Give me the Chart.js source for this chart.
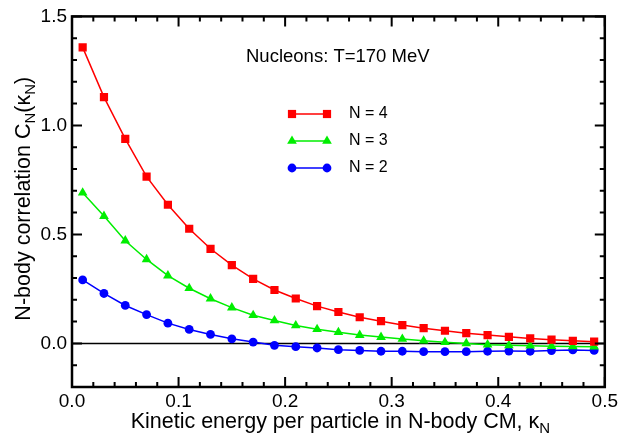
<!DOCTYPE html>
<html>
<head>
<meta charset="utf-8">
<script src="https://cdn.jsdelivr.net/npm/chart.js@4.4.1/dist/chart.umd.min.js"></script>
<style>
html,body{margin:0;padding:0;background:#fff;}
#wrap{width:621px;height:436px;position:relative;}
</style>
</head>
<body>
<div id="wrap"><canvas id="c" width="621" height="436"></canvas></div>
<script>
// ---- data ----
const kappa = [0.01,0.03,0.05,0.07,0.09,0.11,0.13,0.15,0.17,0.19,0.21,0.23,0.25,0.27,0.29,0.31,0.33,0.35,0.37,0.39,0.41,0.43,0.45,0.47,0.49];
const n4 = [1.358,1.130,0.938,0.765,0.636,0.526,0.434,0.359,0.296,0.245,0.206,0.171,0.144,0.120,0.102,0.084,0.070,0.058,0.047,0.038,0.030,0.023,0.017,0.012,0.008];
const n3 = [0.691,0.584,0.471,0.385,0.311,0.253,0.205,0.164,0.129,0.105,0.082,0.065,0.051,0.038,0.029,0.020,0.012,0.005,0.000,-0.006,-0.009,-0.011,-0.013,-0.014,-0.015];
const n2 = [0.291,0.229,0.174,0.132,0.093,0.064,0.041,0.021,0.006,-0.009,-0.015,-0.021,-0.029,-0.032,-0.036,-0.036,-0.038,-0.038,-0.038,-0.036,-0.035,-0.036,-0.033,-0.030,-0.032];
const seriesLabels = ['N = 4','N = 3','N = 2'];
const xTicks = [0,0.1,0.2,0.3,0.4,0.5];
const yTicks = [0,0.5,1.0,1.5];
const xTitle = ['Kinetic energy per particle in N-body CM, κ','N'];
const yTitle = ['N-body correlation C','N','(κ','N',')'];
const annotationText = 'Nucleons: T=170 MeV';

const FONT = '"Liberation Sans", Arial, Helvetica, sans-serif';

function pts(arr){ return arr.map((v,i)=>({x:kappa[i], y:v})); }

const datasets = [
  {label:seriesLabels[0], data:pts(n4), borderColor:'#ff0000', backgroundColor:'#ff0000', pointStyle:'rect', pointRadius:5.8},
  {label:seriesLabels[1], data:pts(n3), borderColor:'#00ee00', backgroundColor:'#00ee00', pointStyle:'triangle', pointRadius:5.6},
  {label:seriesLabels[2], data:pts(n2), borderColor:'#0000ff', backgroundColor:'#0000ff', pointStyle:'circle', pointRadius:4.4},
].map(d=>Object.assign(d,{borderWidth:1.5, pointBorderWidth:0, tension:0, fill:false, pointHoverRadius:d.pointRadius}));

function drawSubText(ctx, parts, size, subSize){
  let x = 0;
  parts.forEach((p,i)=>{
    const sub = i%2===1;
    ctx.font = (sub?subSize:size)+'px '+FONT;
    ctx.fillText(p, x, sub ? size*0.30 : 0);
    x += ctx.measureText(p).width;
  });
  return x;
}
function measureSub(ctx, parts, size, subSize){
  let w=0;
  parts.forEach((p,i)=>{ctx.font=((i%2===1)?subSize:size)+'px '+FONT; w+=ctx.measureText(p).width;});
  return w;
}

const framePlugin = {
  id:'frame',
  beforeDatasetsDraw(chart){
    const {ctx, chartArea:a, scales:{y}} = chart;
    ctx.save();
    ctx.strokeStyle='#000'; ctx.lineWidth=1.5;
    const y0 = y.getPixelForValue(0);
    ctx.beginPath(); ctx.moveTo(a.left,y0); ctx.lineTo(a.right,y0); ctx.stroke();
    ctx.restore();
  },
  afterDatasetsDraw(chart){
    const {ctx, chartArea:a, scales:{x,y}} = chart;
    ctx.save();
    ctx.strokeStyle='#000';
    ctx.lineWidth=2;
    for(let i=0;i<=25;i++){
      const px=x.getPixelForValue(i*0.02);
      const L = (i%5===0)?10:5;
      ctx.beginPath();
      ctx.moveTo(px,a.bottom); ctx.lineTo(px,a.bottom-L);
      ctx.moveTo(px,a.top); ctx.lineTo(px,a.top+L);
      ctx.stroke();
    }
    for(let i=-2;i<=15;i++){
      const py=y.getPixelForValue(i*0.1);
      const L = (i%5===0)?10:5;
      ctx.beginPath();
      ctx.moveTo(a.left,py); ctx.lineTo(a.left+L,py);
      ctx.moveTo(a.right,py); ctx.lineTo(a.right-L,py);
      ctx.stroke();
    }
    ctx.lineWidth=2.5;
    ctx.strokeRect(a.left,a.top,a.right-a.left,a.bottom-a.top);

    // annotation
    ctx.fillStyle='#000';
    ctx.textBaseline='middle';
    ctx.textAlign='left';
    ctx.font='18.5px '+FONT;
    ctx.fillText(annotationText, 246, 57);

    // legend
    const ly=[114,141,168];
    chart.data.datasets.forEach((d,i)=>{
      ctx.strokeStyle=d.borderColor; ctx.lineWidth=1.5;
      ctx.beginPath(); ctx.moveTo(292,ly[i]); ctx.lineTo(327,ly[i]); ctx.stroke();
      ctx.fillStyle=d.backgroundColor;
      [292,327].forEach(px=>{
        ctx.beginPath();
        if(d.pointStyle==='rect'){ const s=d.pointRadius*Math.SQRT1_2; ctx.rect(px-s,ly[i]-s,2*s,2*s);} 
        else if(d.pointStyle==='circle'){ ctx.arc(px,ly[i],d.pointRadius,0,Math.PI*2);} 
        else { const r=d.pointRadius; ctx.moveTo(px,ly[i]-r); ctx.lineTo(px+r*Math.sin(2*Math.PI/3),ly[i]+r/2); ctx.lineTo(px-r*Math.sin(2*Math.PI/3),ly[i]+r/2); ctx.closePath(); }
        ctx.fill();
      });
      ctx.fillStyle='#000';
      ctx.font='16px '+FONT;
      ctx.fillText(d.label, 349, ly[i]);
    });

    // x title
    const size=21.5, sub=15;
    const wx = measureSub(ctx,xTitle,size,sub);
    ctx.save();
    ctx.translate((a.left+a.right)/2 - wx/2 + 2, 422);
    drawSubText(ctx,xTitle,size,sub);
    ctx.restore();
    // y title
    const wy = measureSub(ctx,yTitle,size,sub);
    ctx.save();
    ctx.translate(24, (a.top+a.bottom)/2 + wy/2 - 3);
    ctx.rotate(-Math.PI/2);
    drawSubText(ctx,yTitle,size,sub);
    ctx.restore();
    ctx.restore();
  }
};

new Chart(document.getElementById('c'), {
  type:'line',
  data:{datasets},
  options:{
    responsive:false,
    animation:false,
    events:[],
    layout:{padding:{top:13,right:15,left:0,bottom:0}},
    plugins:{legend:{display:false}, tooltip:{enabled:false}},
    scales:{
      x:{type:'linear', min:0, max:0.5,
        afterBuildTicks(s){ s.ticks = xTicks.map(v=>({value:v})); },
        afterFit(s){ s.height = 49; },
        grid:{display:false, drawTicks:false}, border:{display:false},
        ticks:{color:'#000', font:{family:FONT,size:19}, padding:3, maxRotation:0, autoSkip:false,
          callback:(v)=>Number(v).toFixed(1)}
      },
      y:{type:'linear', min:-0.2, max:1.5,
        afterBuildTicks(s){ s.ticks = yTicks.map(v=>({value:v})); },
        afterFit(s){ s.width = 72; },
        grid:{display:false, drawTicks:false}, border:{display:false},
        ticks:{color:'#000', font:{family:FONT,size:19}, padding:5, autoSkip:false,
          callback:(v)=>Number(v).toFixed(1)}
      }
    }
  },
  plugins:[framePlugin]
});
</script>
</body>
</html>
